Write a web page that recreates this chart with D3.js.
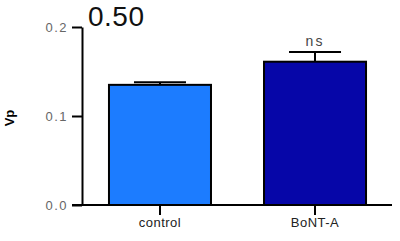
<!doctype html>
<meta charset="utf-8">
<style>
body { margin: 0; background: #fff; font-family: Arial, "Liberation Sans", sans-serif; }
</style>
<script src="https://cdn.jsdelivr.net/npm/d3@7"></script>
<body>
<script>

var w = 400, h = 241;

var groups = ["control", "BoNT-A"];
var means = [0.135, 0.161];
var errors = [0.003, 0.011];
var colors = ["#1c7cff", "#0606a8"];
var yTicks = [0.0, 0.1, 0.2];

var svg = d3.select("body").append("svg")
    .attr("width", w)
    .attr("height", h);

var y = d3.scaleLinear().domain([0, 0.2]).range([205, 27]);
var x = d3.scaleBand().domain(groups).range([82, 393]).paddingInner(0.342).paddingOuter(0.174);

// bars
svg.selectAll("rect.bar").data(groups).enter().append("rect")
    .attr("x", d => x(d))
    .attr("width", x.bandwidth())
    .attr("y", (d, i) => y(means[i]))
    .attr("height", (d, i) => y(0) - y(means[i]))
    .style("fill", (d, i) => colors[i])
    .style("stroke", "#000")
    .style("stroke-width", 2);

// error bars (upper only)
groups.forEach(function(g, i) {
  var cx = x(g) + x.bandwidth() / 2;
  svg.append("line")
      .attr("x1", cx).attr("x2", cx)
      .attr("y1", y(means[i])).attr("y2", y(means[i] + errors[i]))
      .style("stroke", "#000").style("stroke-width", 2);
  svg.append("line")
      .attr("x1", cx - 26).attr("x2", cx + 26)
      .attr("y1", y(means[i] + errors[i])).attr("y2", y(means[i] + errors[i]))
      .style("stroke", "#000").style("stroke-width", 2);
});

// y axis
var yAxis = svg.append("g")
    .attr("transform", "translate(82,0)")
    .call(d3.axisLeft(y).tickValues(yTicks).tickFormat(d3.format(".1f")).tickSize(10).tickSizeOuter(0));
yAxis.select(".domain").style("stroke-width", 2);
yAxis.selectAll(".tick line").style("stroke-width", 2);
yAxis.selectAll(".tick text")
    .attr("x", -14)
    .style("font-size", "13px")
    .style("letter-spacing", "1.5px")
    .style("fill", "#666")
    .style("font-family", "Arial, sans-serif");

// x axis
var xAxis = svg.append("g")
    .attr("transform", "translate(0,205)")
    .call(d3.axisBottom(x).tickSize(10).tickSizeOuter(0));
xAxis.select(".domain").attr("d", "M72,0H392").style("stroke-width", 2);
xAxis.selectAll(".tick line").style("stroke-width", 2);
xAxis.selectAll(".tick text")
    .attr("y", 13)
    .style("font-size", "13px")
    .style("letter-spacing", "0.5px")
    .style("fill", "#222")
    .style("font-family", "Arial, sans-serif");

// y label
svg.append("text")
    .attr("transform", "translate(14,118) rotate(-90)")
    .attr("text-anchor", "middle")
    .style("font-size", "13px")
    .style("font-weight", "bold")
    .text("Vp");

// title value
svg.append("text")
    .attr("x", 88)
    .attr("y", 26)
    .style("font-size", "28px")
    .style("letter-spacing", "0.5px")
    .style("fill", "#111")
    .text("0.50");

// significance
svg.append("text")
    .attr("x", x("BoNT-A") + x.bandwidth() / 2)
    .attr("y", 46)
    .attr("text-anchor", "middle")
    .style("font-size", "14px")
    .style("letter-spacing", "2px")
    .style("fill", "#444")
    .text("ns");

</script>
